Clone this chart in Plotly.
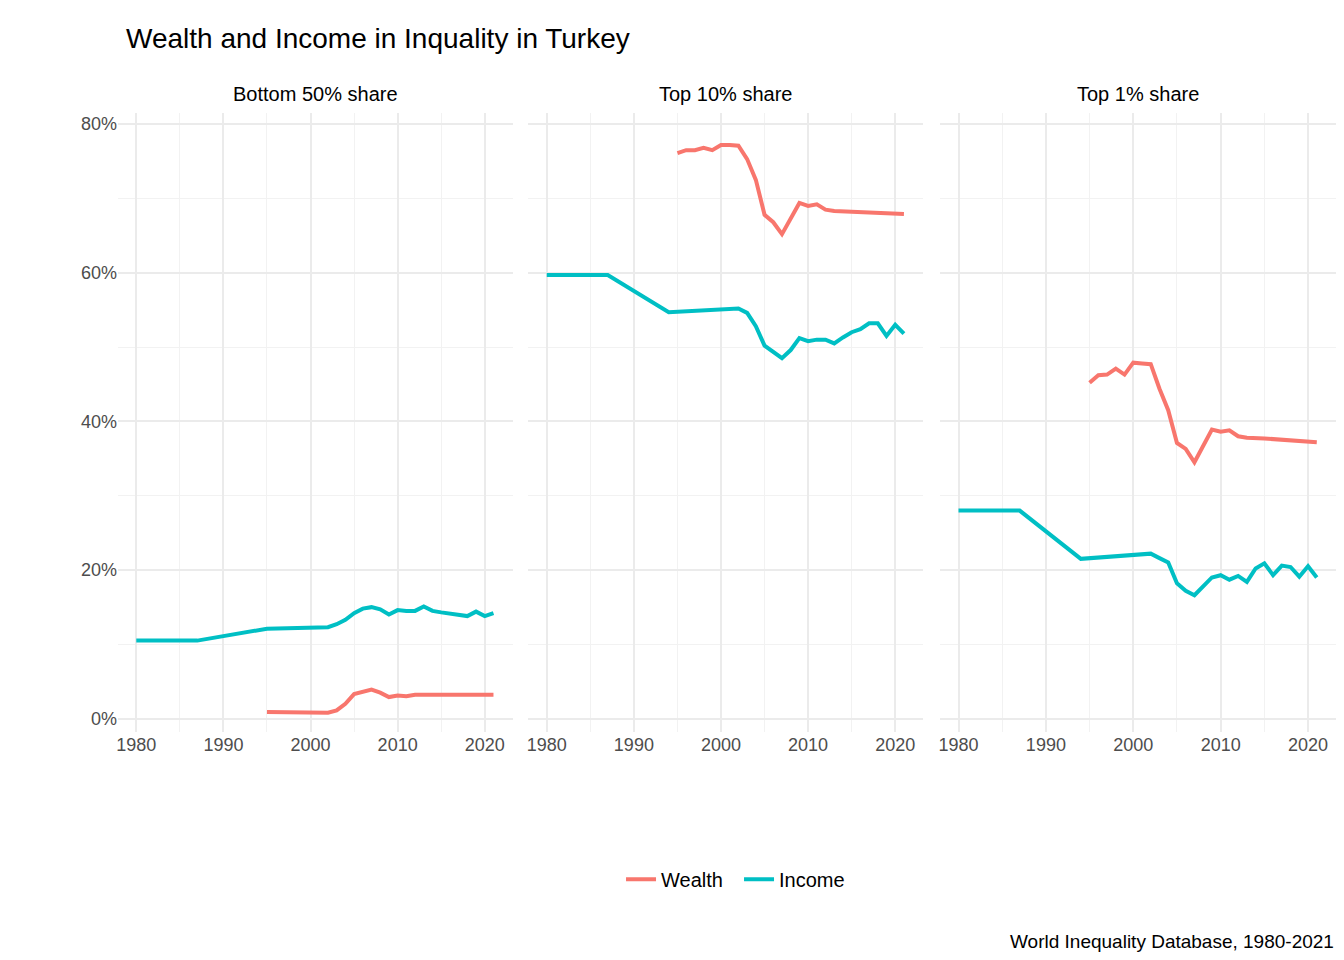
import plotly.graph_objs as go

panels = ['Bottom 50% share', 'Top 10% share', 'Top 1% share']

# income series
b50_inc_years = [1980, 1987, 1995, 2002, 2003, 2004, 2005, 2006, 2007, 2008, 2009, 2010, 2011, 2012,
                 2013, 2014, 2015, 2016, 2017, 2018, 2019, 2020, 2021]
b50_inc = [10.5, 10.5, 12.1, 12.3, 12.7, 13.3, 14.2, 14.8, 15.0, 14.7, 14.0, 14.6, 14.5, 14.5,
           15.1, 14.5, 14.3, 14.1, 13.9, 13.8, 14.4, 13.8, 14.2]
top_inc_years = [1980, 1987, 1994, 2002, 2003, 2004, 2005, 2006, 2007, 2008, 2009, 2010, 2011, 2012,
                 2013, 2014, 2015, 2016, 2017, 2018, 2019, 2020, 2021]
t10_inc = [59.7, 59.7, 54.7, 55.2, 54.6, 52.8, 50.2, 49.3, 48.5, 49.6, 51.2, 50.8, 51.0, 51.0,
           50.5, 51.3, 52.0, 52.4, 53.2, 53.2, 51.5, 53.0, 51.8]
t1_inc = [28.0, 28.0, 21.5, 22.2, 21.6, 21.0, 18.2, 17.2, 16.6, 17.8, 19.0, 19.3, 18.7, 19.2,
          18.4, 20.2, 20.9, 19.3, 20.6, 20.4, 19.1, 20.5, 19.0]

# wealth series
b50_wlth_years = [1995, 2002, 2003, 2004, 2005, 2006, 2007, 2008, 2009, 2010, 2011, 2012, 2013, 2021]
b50_wlth = [0.9, 0.8, 1.1, 2.0, 3.3, 3.6, 3.9, 3.5, 2.9, 3.1, 3.0, 3.2, 3.2, 3.2]
top_wlth_years = [1995, 1996, 1997, 1998, 1999, 2000, 2001, 2002, 2003, 2004, 2005, 2006, 2007, 2008,
                  2009, 2010, 2011, 2012, 2013, 2015, 2017, 2019, 2021]
t10_wlth = [76.1, 76.5, 76.5, 76.8, 76.5, 77.2, 77.2, 77.1, 75.3, 72.5, 67.8, 66.8, 65.2, 67.3,
            69.4, 69.0, 69.2, 68.5, 68.3, 68.2, 68.1, 68.0, 67.9]
t1_wlth = [45.2, 46.2, 46.3, 47.1, 46.3, 47.9, 47.8, 47.7, 44.4, 41.5, 37.1, 36.3, 34.5, 36.7,
           38.9, 38.6, 38.8, 38.0, 37.8, 37.7, 37.5, 37.3, 37.2]

wealth = [(b50_wlth_years, b50_wlth), (top_wlth_years, t10_wlth), (top_wlth_years, t1_wlth)]
income = [(b50_inc_years, b50_inc), (top_inc_years, t10_inc), (top_inc_years, t1_inc)]

red = '#F8766D'
teal = '#00BFC4'
domains = [[0, 0.324], [0.337, 0.661], [0.675, 1.0]]

fig = go.Figure()
for i in range(3):
    xa = 'x' if i == 0 else f'x{i+1}'
    ya = 'y' if i == 0 else f'y{i+1}'
    fig.add_trace(go.Scatter(x=wealth[i][0], y=[v / 100 for v in wealth[i][1]], mode='lines',
                             line=dict(color=red, width=4), name='Wealth  ',
                             showlegend=(i == 0), xaxis=xa, yaxis=ya))
    fig.add_trace(go.Scatter(x=income[i][0], y=[v / 100 for v in income[i][1]], mode='lines',
                             line=dict(color=teal, width=4), name='Income',
                             showlegend=(i == 0), xaxis=xa, yaxis=ya))

axis_style = dict(showgrid=True, gridcolor='#EBEBEB', gridwidth=2, zeroline=False,
                  showline=False, ticks='', tickfont=dict(size=18, color='#4D4D4D'),
                  automargin=False,
                  minor=dict(showgrid=True, gridcolor='#F2F2F2', gridwidth=1))
layout = dict(
    plot_bgcolor='white', paper_bgcolor='white',
    width=1344, height=960,
    margin=dict(l=110, r=16, t=105, b=236, autoexpand=False),
    font=dict(family='Liberation Sans, Arial', color='black'),
    title=dict(text='Wealth and Income in Inquality in Turkey', x=118 / 1344, y=1 - 30 / 960,
               xanchor='left', yanchor='middle', font=dict(size=28)),
    legend=dict(orientation='h', x=0.507, xanchor='center', y=-0.238, yanchor='middle',
                font=dict(size=20)),
    annotations=[],
)
for i in range(3):
    k = '' if i == 0 else str(i + 1)
    layout['xaxis' + k] = dict(axis_style, domain=domains[i], range=[1977.9, 2023.2],
                               tickvals=[1980, 1990, 2000, 2010, 2020],
                               minor=dict(axis_style['minor'], tickvals=[1985, 1995, 2005, 2015]),
                               anchor='y' + k)
    layout['yaxis' + k] = dict(axis_style, range=[-0.018, 0.815], tickformat='.0%',
                               tickvals=[0, 0.2, 0.4, 0.6, 0.8],
                               minor=dict(axis_style['minor'], tickvals=[0.1, 0.3, 0.5, 0.7]),
                               showticklabels=(i == 0), anchor='x' + k, ticksuffix='  ')
    if i > 0:
        layout['yaxis' + k]['matches'] = 'y'
    layout['annotations'].append(dict(text=panels[i], x=sum(domains[i]) / 2, y=1.0,
                                      xref='paper', yref='paper', xanchor='center',
                                      yanchor='bottom', showarrow=False, yshift=6,
                                      font=dict(size=20)))
layout['annotations'].append(dict(text='World Inequality Database, 1980-2021', x=1.0,
                                  y=-(933 - 724) / 619, xref='paper', yref='paper',
                                  xanchor='right', yanchor='middle',
                                  showarrow=False, font=dict(size=19)))
fig.update_layout(**layout)
fig.write_html('out.html')
